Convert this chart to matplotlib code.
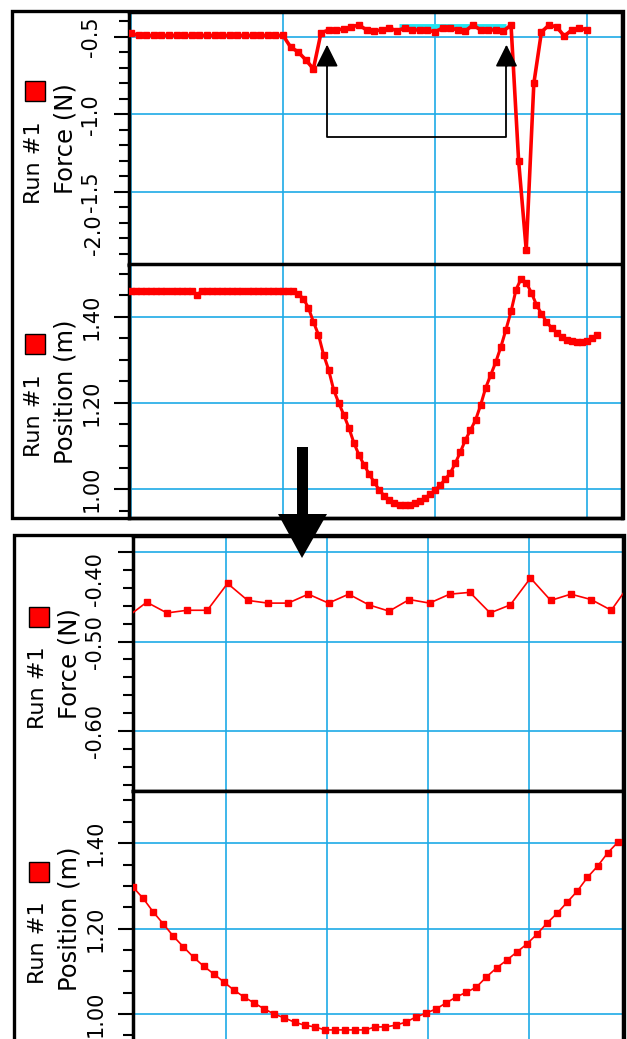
"""
Logger Pro style force / position screenshots, top: whole run, bottom: zoomed part
"""

import matplotlib
import numpy as np
from matplotlib import pyplot as plt
from matplotlib.patches import Polygon, Rectangle
from matplotlib.ticker import MultipleLocator

matplotlib.use('Agg')

W, H = 627, 1039  # output size in pixels
RED = '#ff0000'
GRID_BLUE = '#1eaae6'
SEL_CYAN = '#22e4f2'

# ---------------- data ----------------
# top: whole run, force sampled every 0.05 s, position every 1/30 s
t_force_top = np.arange(61) * 0.05
force_top = [
    -0.475, -0.49, -0.49, -0.49, -0.49, -0.49, -0.49, -0.49, -0.49, -0.49,
    -0.49, -0.49, -0.49, -0.49, -0.49, -0.49, -0.49, -0.49, -0.49, -0.49,
    -0.49, -0.565, -0.597, -0.648, -0.706, -0.474, -0.455, -0.455, -0.448, -0.435,
    -0.423, -0.455, -0.461, -0.455, -0.442, -0.461, -0.442, -0.455, -0.455, -0.455,
    -0.468, -0.442, -0.442, -0.455, -0.461, -0.423, -0.455, -0.455, -0.455, -0.461,
    -0.423, -1.30, -1.874, -0.80, -0.468, -0.423, -0.435, -0.494, -0.455, -0.442,
    -0.455,
]
t_pos_top = np.arange(93) / 30
pos_top = [
    1.46, 1.46, 1.46, 1.46, 1.46, 1.46, 1.46, 1.46, 1.46, 1.46,
    1.46, 1.46, 1.46, 1.45, 1.46, 1.46, 1.46, 1.46, 1.46, 1.46,
    1.46, 1.46, 1.46, 1.46, 1.46, 1.46, 1.46, 1.46, 1.46, 1.46,
    1.46, 1.46, 1.46, 1.453, 1.442, 1.421, 1.388, 1.358, 1.312, 1.277,
    1.230, 1.200, 1.172, 1.142, 1.107, 1.079, 1.056, 1.035, 1.016, 0.998,
    0.984, 0.974, 0.967, 0.963, 0.963, 0.963, 0.967, 0.972, 0.979, 0.988,
    0.998, 1.009, 1.023, 1.037, 1.060, 1.086, 1.114, 1.137, 1.160, 1.195,
    1.235, 1.265, 1.295, 1.330, 1.370, 1.412, 1.463, 1.488, 1.479, 1.456,
    1.428, 1.407, 1.388, 1.374, 1.363, 1.353, 1.347, 1.344, 1.342, 1.342,
    1.344, 1.351, 1.358,
]
sel_t = [1.76, 2.47]  # highlighted (cyan) selection in the top force graph
sel_force = [-0.428, -0.428]
arrow_t = [1.29, 2.47]  # bracket arrows marking the zoomed range
arrow_tip, arrow_base = -0.55, -1.145

# bottom: zoom of the selected range
t_force_bot = 1.254 + np.arange(26) * 0.05
force_bot = [
    -0.473, -0.456, -0.468, -0.465, -0.465, -0.435, -0.454, -0.457, -0.457, -0.447,
    -0.457, -0.447, -0.459, -0.466, -0.453, -0.457, -0.447, -0.445, -0.468, -0.459,
    -0.429, -0.454, -0.447, -0.453, -0.465, -0.433,
]
t_pos_bot = 1.27 + np.arange(49) * 0.025
pos_bot = [
    1.297, 1.271, 1.239, 1.211, 1.182, 1.157, 1.133, 1.112, 1.094, 1.075,
    1.056, 1.040, 1.026, 1.012, 1.000, 0.991, 0.981, 0.974, 0.970, 0.963,
    0.963, 0.963, 0.963, 0.963, 0.970, 0.970, 0.974, 0.981, 0.993, 1.002,
    1.012, 1.026, 1.040, 1.051, 1.063, 1.087, 1.108, 1.126, 1.145, 1.164,
    1.187, 1.213, 1.236, 1.262, 1.288, 1.320, 1.346, 1.377, 1.402,
]

force_top_ticks = [-1.5, -1.0, -0.5]
force_top_labels = ['-1.5', '-1.0', '-0.5']
pos_ticks = [1.0, 1.2, 1.4]
pos_labels = ['1.00', '1.20', '1.40']
force_bot_ticks = [-0.6, -0.5, -0.4]
force_bot_labels = ['-0.60', '-0.50', '-0.40']

plt.rcParams['axes.unicode_minus'] = False
plt.rcParams['font.family'] = ['DejaVu Sans']

fig = plt.figure(figsize=(W / 100, H / 100), dpi=100)


def fx(x):  # pixel -> figure fraction
    return x / W


def fy(y):
    return 1 - y / H


def add_panel(box, xlim, ylim, xgrid, yticks, ylabels, yminor, ylabel):
    x0, y0, x1, y1 = box
    ax = fig.add_axes([fx(x0), fy(y1), (x1 - x0) / W, (y1 - y0) / H])
    ax.set_xlim(*xlim)
    ax.set_ylim(*ylim)
    ax.set_xticks(xgrid)
    ax.tick_params(axis='x', length=0, labelbottom=False)
    ax.set_yticks(yticks, labels=ylabels, rotation=90, va='center', fontsize=15)
    ax.yaxis.set_minor_locator(MultipleLocator(yminor))
    ax.tick_params(axis='y', which='major', direction='out', length=11, width=1.5, pad=9)
    ax.tick_params(axis='y', which='minor', direction='out', length=7, width=1.5)
    ax.grid(True, which='major', color=GRID_BLUE, lw=1.2)
    for s in ax.spines.values():
        s.set_linewidth(2.5)
        s.set_color('black')
    # label column: Run #1 + red key square + quantity
    cy = (y0 + y1) / 2
    fig.text(fx(x0 - 64), fy(cy), ylabel, rotation=90, ha='center', va='center', fontsize=17.5)
    fig.text(fx(x0 - 95), fy(cy + 24), 'Run #1', rotation=90, ha='center', va='center', fontsize=16)
    fig.add_artist(Rectangle((fx(x0 - 104), fy(cy - 37)), 20 / W, 20 / H,
                             transform=fig.transFigure, fc=RED, ec='black', lw=1))
    return ax


# ---------------- top screenshot ----------------
ax1 = add_panel((129, 12, 622, 264.5), (-0.013, 3.23), (-1.968, -0.339), [0, 1, 2, 3],
                force_top_ticks, force_top_labels, 0.1, 'Force (N)')
ax1.text(-0.07, -1.775, '-2.0', transform=ax1.get_yaxis_transform(), rotation=90,
         ha='center', va='center', fontsize=15)
ax1.plot(sel_t, sel_force, color=SEL_CYAN, lw=3.5, solid_capstyle='butt', zorder=1.6)
ax1.plot(t_force_top, force_top, color=RED, lw=2.6, marker='s', ms=4, zorder=3)
# bracket with two arrows marking the zoomed range
ax1.plot([arrow_t[0], arrow_t[0], arrow_t[1], arrow_t[1]],
         [arrow_tip - 0.08, arrow_base, arrow_base, arrow_tip - 0.08], color='black', lw=1.3, zorder=4)
for ta in arrow_t:
    ax1.annotate('', xy=(ta, arrow_tip), xytext=(ta, arrow_tip - 0.14),
                 arrowprops=dict(arrowstyle='-|>', mutation_scale=34, color='black',
                                 lw=1.3, shrinkA=0, shrinkB=0), zorder=5)

ax2 = add_panel((129, 264.5, 622, 518), (-0.013, 3.23), (0.933, 1.521), [0, 1, 2, 3],
                pos_ticks, pos_labels, 0.05, 'Position (m)')
ax2.plot(t_pos_top, pos_top, color=RED, lw=2.2, marker='s', ms=4.8, zorder=3)

# ---------------- bottom screenshot ----------------
ax3 = add_panel((133, 536, 623, 791), (1.27, 2.483), (-0.667, -0.382), [1.5, 1.75, 2.0, 2.25],
                force_bot_ticks, force_bot_labels, 0.02, 'Force (N)')
ax3.get_yticklabels()[-1].set_va('top')
ax3.plot(t_force_bot, force_bot, color=RED, lw=1.2, marker='s', ms=4.5, zorder=3)

ax4 = add_panel((133, 791, 623, 1047), (1.27, 2.483), (0.923, 1.522), [1.5, 1.75, 2.0, 2.25],
                pos_ticks, pos_labels, 0.05, 'Position (m)')
ax4.plot(t_pos_bot, pos_bot, color=RED, lw=1.2, marker='s', ms=5, zorder=3)

# outer frames of the two screenshots
fig.add_artist(Rectangle((fx(12), fy(518)), (623 - 12) / W, (518 - 11) / H, transform=fig.transFigure,
                         fill=False, ec='black', lw=2.4, zorder=6))
fig.add_artist(Rectangle((fx(14), fy(1050)), (624 - 14) / W, (1050 - 535) / H, transform=fig.transFigure,
                         fill=False, ec='black', lw=2.4, zorder=6))

# big arrow pointing from the top screenshot to the zoomed one
arrow_px = [(297, 447), (308, 447), (308, 514), (327, 514), (302, 558), (278, 514), (297, 514)]
fig.add_artist(Polygon([(fx(x), fy(y)) for x, y in arrow_px], closed=True, transform=fig.transFigure,
                       fc='black', ec='black', lw=0, zorder=10))

fig.savefig('out.png', dpi=100)
